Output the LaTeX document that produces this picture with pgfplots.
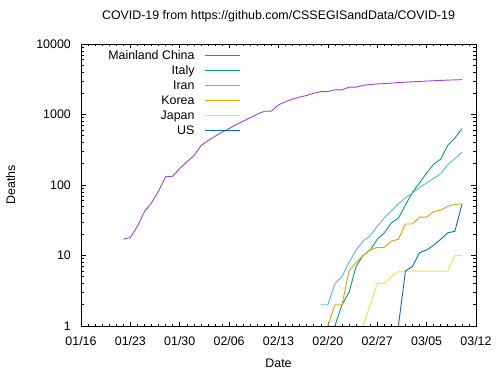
\documentclass[border=0pt]{standalone}
\usepackage{pgfplots}
\pgfplotsset{compat=1.18}
\usepackage{fontspec}
\setmainfont{Liberation Sans}
\definecolor{cChina}{HTML}{A040E0}
\definecolor{cItaly}{HTML}{009E73}
\definecolor{cIran}{HTML}{56B4E9}
\definecolor{cKorea}{HTML}{E69F00}
\definecolor{cJapan}{HTML}{F0E442}
\definecolor{cUS}{HTML}{0072B2}
\begin{document}
\begin{tikzpicture}[font=\fontsize{12.4bp}{15bp}\selectfont]
\useasboundingbox (0,0) rectangle (500bp,375bp);
\begin{axis}[
  at={(81bp,49bp)}, anchor=south west,
  scale only axis, width=395bp, height=282bp,
  ymode=log, xmin=0, xmax=56, ymin=1, ymax=10000,
  /pgf/number format/assume math mode=true,
  xtick={0,7,14,21,28,35,42,49,56},
  xticklabels={01/16,01/23,01/30,02/06,02/13,02/20,02/27,03/05,03/12},
  minor x tick num=6,
  ytick={1,10,100,1000,10000},
  yticklabels={1,10,100,1000,10000},
  tick align=inside, tick pos=both,
  major tick length=4.5bp, minor tick length=2.5bp,
  every tick/.style={black, line width=0.6bp},
  axis line style={black, line width=0.8bp},
  xticklabel style={inner sep=0pt, anchor=north, yshift=-10.5bp},
  yticklabel style={inner sep=0pt, anchor=east, xshift=-10bp},
  title={COVID-19 from https://github.com/CSSEGISandData/COVID-19},
  title style={at={(axis description cs:0.5,1)}, anchor=base, yshift=19bp, inner sep=0pt},
  xlabel={Date},
  xlabel style={at={(axis description cs:0.5,0)}, anchor=base, yshift=-41bp, inner sep=0pt},
  ylabel={Deaths},
  ylabel style={at={(axis description cs:-0.167,0.5)}, anchor=base, inner sep=0pt},
  legend plot pos=right,
  legend cell align=right,
  legend style={at={(axis description cs:0.405,0.9805)}, anchor=north east, draw=none, fill=none,
    inner sep=0pt, row sep=0pt, column sep=10bp,
    nodes={inner sep=0pt, text height=10bp, text depth=5bp}},
  legend image code/.code={\draw[#1, line width=1.3bp] (0bp,2bp) -- (35bp,2bp);},
  every axis plot/.append style={line width=0.9bp},
]
\addplot[cChina] coordinates {
(6,17)(7,18)(8,26)(9,42)(10,56)(11,82)(12,131)(13,133)(14,171)(15,213)
(16,259)(17,361)(18,425)(19,490)(20,562)(21,632)(22,717)(23,804)(24,904)(25,1011)
(26,1111)(27,1116)(28,1368)(29,1520)(30,1662)(31,1765)(32,1863)(33,2002)(34,2114)(35,2118)
(36,2236)(37,2236)(38,2441)(39,2443)(40,2593)(41,2663)(42,2715)(43,2744)(44,2788)(45,2835)
(46,2870)(47,2912)(48,2945)(49,2981)(50,3013)(51,3045)(52,3073)(53,3097)(54,3120)};
\addlegendentry{Mainland China}
\addplot[cItaly] coordinates {
(36,1)(37,2)(38,3)(39,7)(40,10)(41,12)(42,17)(43,21)(44,29)(45,34)
(46,52)(47,79)(48,107)(49,148)(50,197)(51,233)(52,366)(53,463)(54,631)};
\addlegendentry{Italy}
\addplot[cIran] coordinates {
(34,2)(35,2)(36,4)(37,5)(38,8)(39,12)(40,16)(41,19)(42,26)(43,34)
(44,43)(45,54)(46,66)(47,77)(48,92)(49,107)(50,124)(51,145)(52,194)(53,237)(54,291)};
\addlegendentry{Iran}
\addplot[cKorea] coordinates {
(35,1)(36,2)(37,2)(38,6)(39,8)(40,10)(41,12)(42,13)(43,13)(44,16)
(45,17)(46,28)(47,28)(48,35)(49,35)(50,42)(51,44)(52,50)(53,53)(54,54)};
\addlegendentry{Korea}
\addplot[cJapan] coordinates {
(40,1)(41,2)(42,4)(43,4)(44,5)(45,6)(46,6)(47,6)(48,6)(49,6)
(50,6)(51,6)(52,6)(53,10)(54,10)};
\addlegendentry{Japan}
\addplot[cUS] coordinates {
(45,1)(46,6)(47,7)(48,11)(49,12)(50,14)(51,17)(52,21)(53,22)(54,53)};
\addlegendentry{US}
\end{axis}
\end{tikzpicture}
\end{document}
